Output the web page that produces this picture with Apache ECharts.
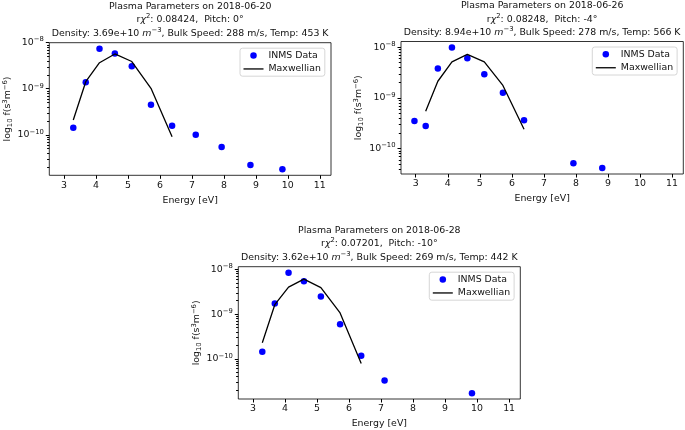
<!DOCTYPE html>
<html><head><meta charset="utf-8">
<script src="https://cdn.jsdelivr.net/npm/echarts@6/dist/echarts.min.js"></script>
<style>html,body{margin:0;padding:0;background:#fff}#c{width:685px;height:430px}</style>
</head><body><div id="c"></div>
<script>
// ---------------- data ----------------
const dates = ['2018-06-20', '2018-06-26', '2018-06-28'];
const chi2 = ['0.08424', '0.08248', '0.07201'];
const pitch = ['0°', '-4°', '-10°'];
const density = ['3.69e+10', '8.94e+10', '3.62e+10'];
const bulkSpeed = ['288', '278', '269'];
const temperature = ['453', '566', '442'];

// Panel 1 (2018-06-20)
const energy1 = [3.29, 3.68, 4.11, 4.59, 5.12, 5.72, 6.38, 7.12, 7.93, 8.83, 9.83];
const inms1 = [1.42e-10, 1.38e-9, 7.4e-9, 5.8e-9, 3.07e-9, 4.5e-10, 1.58e-10, 1.0e-10, 5.4e-11, 2.2e-11, 1.78e-11];
const maxwEnergy1 = [3.29, 3.68, 4.11, 4.59, 5.12, 5.72, 6.38];
const maxw1 = [2.1e-10, 1.42e-9, 3.67e-9, 5.7e-9, 3.9e-9, 1.02e-9, 9.1e-11];

// Panel 2 (2018-06-26)
const energy2 = [2.96, 3.31, 3.69, 4.13, 4.61, 5.14, 5.72, 6.38, 7.92, 8.82];
const inms2 = [3.52e-10, 2.81e-10, 3.8e-9, 9.95e-9, 6.06e-9, 2.94e-9, 1.27e-9, 3.64e-10, 5.15e-11, 4.17e-11];
const maxwEnergy2 = [3.31, 3.69, 4.13, 4.61, 5.14, 5.72, 6.38];
const maxw2 = [5.5e-10, 2.14e-9, 5.15e-9, 7.26e-9, 5.15e-9, 1.77e-9, 2.42e-10];

// Panel 3 (2018-06-28)
const energy3 = [3.29, 3.68, 4.11, 4.59, 5.12, 5.72, 6.38, 7.11, 9.84];
const inms3 = [1.44e-10, 1.73e-9, 8.45e-9, 5.44e-9, 2.47e-9, 5.9e-10, 1.17e-10, 3.26e-11, 1.7e-11];
const maxwEnergy3 = [3.29, 3.68, 4.11, 4.59, 5.12, 5.72, 6.38];
const maxw3 = [2.28e-10, 1.62e-9, 4.0e-9, 6.03e-9, 3.92e-9, 1.06e-9, 7.8e-11];

// ticks
const xTicks = [3, 4, 5, 6, 7, 8, 9, 10, 11];
const yMajorTicks = [1e-10, 1e-9, 1e-8];
const yMinorDecades = [1e-11, 1e-10, 1e-9];
const yMinorFactors = [2, 3, 4, 5, 6, 7, 8, 9];

// ---------------- layout ----------------
const FONT = 'DejaVu Sans';
const FS = 9.4;
const SUP = 6.8;
const panels = [
  {grid: {left: 49.3, top: 42.7, width: 281.7, height: 132.6}, yLog: [-10.88, -8.0], titleTop: -0.3,
   energy: energy1, inms: inms1, mE: maxwEnergy1, maxw: maxw1},
  {grid: {left: 401, top: 41.5, width: 282.3, height: 132.5}, yLog: [-10.5, -7.885], titleTop: -0.8,
   energy: energy2, inms: inms2, mE: maxwEnergy2, maxw: maxw2},
  {grid: {left: 238.3, top: 266.7, width: 282, height: 132.3}, yLog: [-10.9, -7.94], titleTop: 223.6,
   energy: energy3, inms: inms3, mE: maxwEnergy3, maxw: maxw3}
];
const xRange = [2.54, 11.35];

const minorTicks = [];
yMinorDecades.forEach(d => yMinorFactors.forEach(f => minorTicks.push(f * d)));
const majorExp = yMajorTicks.map(v => Math.log10(v));
const minorExp = minorTicks.map(v => Math.log10(v));

const option = {
  animation: false,
  backgroundColor: '#fff',
  textStyle: {fontFamily: FONT},
  title: [], legend: [], grid: [], xAxis: [], yAxis: [], series: []
};

panels.forEach((p, k) => {
  const g = p.grid;
  option.grid.push(Object.assign({show: true, borderColor: '#000', borderWidth: 0.8,
    backgroundColor: 'transparent', containLabel: false, outerBoundsMode: 'none'}, g));
  const cx = g.left + g.width / 2;
  option.title.push({
    text: 'Plasma Parameters on ' + dates[k] + '\n' +
          'r{i|χ}{s|2}: ' + chi2[k] + ',  Pitch: ' + pitch[k] + '\n' +
          'Density: ' + density[k] + ' {i|m}{s|−3}, Bulk Speed: ' + bulkSpeed[k] + ' m/s, Temp: ' + temperature[k] + ' K',
    left: cx, top: p.titleTop, textAlign: 'center', textVerticalAlign: 'top', padding: 0,
    textStyle: {fontFamily: FONT, fontSize: FS, fontWeight: 'normal', color: '#111', lineHeight: 13.5,
      rich: {i: {fontFamily: FONT, fontSize: FS, fontStyle: 'italic', color: '#111', lineHeight: 13.5},
             s: {fontFamily: FONT, fontSize: SUP, color: '#111', lineHeight: 8, verticalAlign: 'top'}}}
  });
  option.legend.push({
    data: [{name: 'INMS Data', icon: 'circle'},
           {name: 'Maxwellian', icon: 'path://M0,0 L20,0 L20,1.3 L0,1.3 Z', itemStyle: {color: '#000'}}],
    orient: 'vertical', left: g.left + g.width - 91, top: g.top + 5.5,
    itemWidth: 20, itemHeight: 6.5, itemGap: 3, padding: [2, 4, 2, 3.5],
    borderColor: '#cccccc', borderWidth: 0.8, borderRadius: 2.5, backgroundColor: 'rgba(255,255,255,0.8)',
    selectedMode: false, symbolKeepAspect: true,
    textStyle: {fontFamily: FONT, fontSize: FS, color: '#111', lineHeight: 10.5}
  });
  option.xAxis.push({
    type: 'value', gridIndex: k, min: xRange[0], max: xRange[1],
    name: 'Energy [eV]', nameLocation: 'middle', nameGap: 20.5,
    nameTextStyle: {fontFamily: FONT, fontSize: FS, color: '#111'},
    axisLine: {show: false},
    axisTick: {show: true, inside: false, length: 3.5, lineStyle: {color: '#000', width: 1}, customValues: xTicks},
    axisLabel: {show: true, margin: 5.5, fontFamily: FONT, fontSize: FS, color: '#111', customValues: xTicks},
    splitLine: {show: false}
  });
  const yMin = Math.pow(10, p.yLog[0]), yMax = Math.pow(10, p.yLog[1]);
  option.yAxis.push({
    type: 'log', logBase: 10, gridIndex: k, position: 'left', min: yMin, max: yMax,
    name: 'log{sub|10} f(s{sup|3}m{sup|−6})', nameLocation: 'middle', nameGap: 36, nameRotate: 90,
    nameTextStyle: {fontFamily: FONT, fontSize: FS, color: '#111', lineHeight: 12,
      rich: {sub: {fontFamily: FONT, fontSize: SUP, verticalAlign: 'bottom', lineHeight: 8, color: '#111'},
             sup: {fontFamily: FONT, fontSize: SUP, verticalAlign: 'top', lineHeight: 8, color: '#111'}}},
    axisLine: {show: false},
    axisTick: {show: false},
    axisLabel: {show: true, margin: 5.5, fontFamily: FONT, fontSize: FS, color: '#111', customValues: yMajorTicks,
      formatter: v => {
        const e = Math.round(Math.log10(v));
        return '{b|10}{s|−' + (-e) + '}';
      },
      rich: {b: {fontFamily: FONT, fontSize: FS, color: '#111', lineHeight: 13},
             s: {fontFamily: FONT, fontSize: SUP, color: '#111', lineHeight: 8, verticalAlign: 'top'}}},
    splitLine: {show: false}
  });
  option.series.push({
    type: 'scatter', name: 'INMS Data', xAxisIndex: k, yAxisIndex: k,
    symbol: 'circle', symbolSize: 6.5, itemStyle: {color: '#0000ff', opacity: 1},
    data: p.energy.map((e, i) => [e, p.inms[i]]), z: 2
  });
  option.series.push({
    type: 'line', name: 'Maxwellian', xAxisIndex: k, yAxisIndex: k,
    symbol: 'none', showSymbol: false, lineStyle: {color: '#000', width: 1.3}, itemStyle: {color: '#000'},
    data: p.mE.map((e, i) => [e, p.maxw[i]]), z: 3
  });
});

// overlay grids carrying the y tick marks (exponent space, same extent as the log axis)
panels.forEach((p, k) => {
  const g = p.grid;
  [[majorExp, 3.5, 1], [minorExp, 2.2, 1]].forEach(([vals, len, w]) => {
    option.grid.push(Object.assign({show: false, containLabel: false, outerBoundsMode: 'none'}, g));
    const gi = option.grid.length - 1;
    option.xAxis.push({type: 'value', gridIndex: gi, min: xRange[0], max: xRange[1], show: false});
    option.yAxis.push({
      type: 'value', gridIndex: gi, position: 'left', min: p.yLog[0], max: p.yLog[1],
      axisLine: {show: false},
      axisTick: {show: true, inside: false, length: len, lineStyle: {color: '#000', width: w}, customValues: vals},
      axisLabel: {show: false, customValues: vals}, splitLine: {show: false}
    });
  });
});

const chart = echarts.init(document.getElementById('c'), null, {renderer: 'canvas'});
chart.setOption(option);
</script>
</body></html>
